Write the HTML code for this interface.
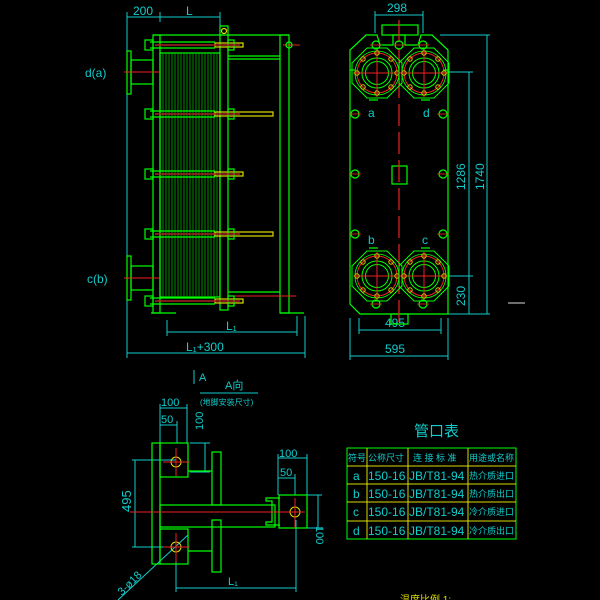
<!DOCTYPE html>
<html><head><meta charset="utf-8"><style>
html,body{margin:0;padding:0;background:#000;}
svg{display:block}
text{font-family:"Liberation Sans","Noto Sans CJK SC",sans-serif;}
</style></head><body>
<svg width="600" height="600" viewBox="0 0 600 600" xmlns="http://www.w3.org/2000/svg">
<rect width="600" height="600" fill="#000"/>
<defs>
<g id="bolt">
<circle r="4" fill="none" stroke="#0f0" stroke-width="1.2"/>
<line x1="-6" y1="0" x2="6" y2="0" stroke="#e22" stroke-width="0.8"/>
</g>
<g id="port">
<polygon points="-10,-25 10,-25 25,-10 25,10 10,25 -10,25 -25,10 -25,-10" fill="none" stroke="#0f0" stroke-width="1"/>
<circle r="20" fill="none" stroke="#e22" stroke-width="1"/>
<circle r="22" fill="none" stroke="#0f0" stroke-width="0.8"/>
<circle r="15" fill="none" stroke="#0f0" stroke-width="1"/>
<circle r="11.5" fill="none" stroke="#0f0" stroke-width="1"/>
<line x1="-24" y1="0" x2="24" y2="0" stroke="#e22" stroke-width="1"/>
<line x1="0" y1="-24" x2="0" y2="24" stroke="#e22" stroke-width="1"/>
<g fill="none" stroke="#cc0" stroke-width="1">
<circle cx="20" cy="0" r="2.2"/><circle cx="-20" cy="0" r="2.2"/><circle cx="0" cy="20" r="2.2"/><circle cx="0" cy="-20" r="2.2"/>
<circle cx="14" cy="14" r="2.2"/><circle cx="-14" cy="14" r="2.2"/><circle cx="14" cy="-14" r="2.2"/><circle cx="-14" cy="-14" r="2.2"/>
</g>
</g>
</defs>

<!-- ============ LEFT VIEW ============ -->
<g stroke="#1cc" stroke-width="1" fill="none">
<line x1="127" y1="17" x2="220" y2="17"/>
<line x1="127" y1="12" x2="127" y2="358"/>
<line x1="160" y1="12" x2="160" y2="22"/>
<line x1="220" y1="12" x2="220" y2="26"/>
<line x1="167" y1="320" x2="167" y2="336"/>
<line x1="297" y1="316" x2="297" y2="336"/>
<line x1="167" y1="332" x2="297" y2="332"/>
<line x1="305" y1="316" x2="305" y2="358"/>
<line x1="127" y1="353" x2="305" y2="353"/>
</g>
<g fill="#1cc" font-size="12">
<text x="133" y="15">200</text>
<text x="186" y="15">L</text>
<text x="85" y="77">d(a)</text>
<text x="87" y="283">c(b)</text>
<text x="226" y="330">L₁</text>
<text x="186" y="351">L₁+300</text>
</g>
<g stroke="#0f0" stroke-width="1.2" fill="none">
<line x1="153" y1="35" x2="289" y2="35"/>
<rect x="153" y="35" width="7" height="278"/>
<rect x="160" y="53" width="60" height="244"/>
<rect x="220" y="26" width="8" height="284"/>
<rect x="280" y="35" width="9" height="278"/>
<line x1="228" y1="56" x2="280" y2="56"/>
<line x1="228" y1="59" x2="280" y2="59"/>
<line x1="228" y1="292" x2="280" y2="292"/>
<line x1="151" y1="313" x2="176" y2="313"/>
<line x1="280" y1="313" x2="304" y2="313"/>
<!-- nozzles -->
<rect x="127" y="51" width="4" height="43"/>
<rect x="131" y="60" width="22" height="24"/>
<rect x="127" y="256" width="4" height="44"/>
<rect x="131" y="266" width="22" height="24"/>
</g>
<g stroke="#0c0" stroke-width="0.7">
<line x1="163" y1="53" x2="163" y2="297"/><line x1="166" y1="53" x2="166" y2="297"/><line x1="169" y1="53" x2="169" y2="297"/><line x1="172" y1="53" x2="172" y2="297"/><line x1="175" y1="53" x2="175" y2="297"/><line x1="178" y1="53" x2="178" y2="297"/><line x1="181" y1="53" x2="181" y2="297"/><line x1="184" y1="53" x2="184" y2="297"/><line x1="187" y1="53" x2="187" y2="297"/><line x1="190" y1="53" x2="190" y2="297"/><line x1="193" y1="53" x2="193" y2="297"/><line x1="196" y1="53" x2="196" y2="297"/><line x1="199" y1="53" x2="199" y2="297"/><line x1="202" y1="53" x2="202" y2="297"/><line x1="205" y1="53" x2="205" y2="297"/><line x1="208" y1="53" x2="208" y2="297"/><line x1="211" y1="53" x2="211" y2="297"/><line x1="214" y1="53" x2="214" y2="297"/><line x1="217" y1="53" x2="217" y2="297"/>
</g>
<g stroke="#e22" stroke-width="1">
<line x1="124" y1="72" x2="160" y2="72"/>
<line x1="124" y1="278" x2="160" y2="278"/>
<line x1="228" y1="296" x2="296" y2="296"/>
<line x1="283" y1="45" x2="300" y2="45"/>
</g>
<!-- bolts -->
<g stroke-width="1.2" fill="none">
<g stroke="#dd0"><rect x="215" y="43" width="28" height="4"/><rect x="215" y="112" width="58" height="4"/><rect x="215" y="172" width="28" height="4"/><rect x="215" y="232" width="58" height="4"/><rect x="215" y="299" width="28" height="4"/></g>
<g stroke="#0f0"><line x1="150" y1="42" x2="215" y2="42"/><line x1="150" y1="48" x2="215" y2="48"/><line x1="150" y1="111" x2="215" y2="111"/><line x1="150" y1="117" x2="215" y2="117"/><line x1="150" y1="171" x2="215" y2="171"/><line x1="150" y1="177" x2="215" y2="177"/><line x1="150" y1="231" x2="215" y2="231"/><line x1="150" y1="237" x2="215" y2="237"/><line x1="150" y1="298" x2="215" y2="298"/><line x1="150" y1="304" x2="215" y2="304"/>
<rect x="145" y="40" width="8" height="10"/><rect x="145" y="109" width="8" height="10"/><rect x="145" y="169" width="8" height="10"/><rect x="145" y="229" width="8" height="10"/><rect x="145" y="296" width="8" height="10"/>
<rect x="228" y="40" width="6" height="10"/><rect x="228" y="109" width="6" height="10"/><rect x="228" y="169" width="6" height="10"/><rect x="228" y="229" width="6" height="10"/><rect x="228" y="296" width="6" height="10"/>
<circle cx="289" cy="45" r="3"/><circle cx="224" cy="31" r="2.5" stroke="#dd0"/></g>
<g stroke="#a22" stroke-width="1.5"><line x1="155" y1="45" x2="240" y2="45"/><line x1="155" y1="114" x2="240" y2="114"/><line x1="155" y1="174" x2="240" y2="174"/><line x1="155" y1="234" x2="240" y2="234"/><line x1="155" y1="301" x2="240" y2="301"/></g>
</g>

<!-- ============ RIGHT VIEW ============ -->
<g stroke="#1cc" stroke-width="1" fill="none">
<line x1="375" y1="15" x2="423" y2="15"/>
<line x1="375" y1="11" x2="375" y2="33"/>
<line x1="423" y1="11" x2="423" y2="33"/>
<line x1="440" y1="35" x2="490" y2="35"/>
<line x1="447" y1="72" x2="473" y2="72"/>
<line x1="447" y1="276" x2="473" y2="276"/>
<line x1="448" y1="314" x2="490" y2="314"/>
<line x1="487" y1="35" x2="487" y2="314"/>
<line x1="469" y1="72" x2="469" y2="314"/>
<line x1="359" y1="318" x2="359" y2="334"/>
<line x1="441" y1="318" x2="441" y2="334"/>
<line x1="359" y1="330" x2="441" y2="330"/>
<line x1="350" y1="318" x2="350" y2="360"/>
<line x1="448" y1="318" x2="448" y2="360"/>
<line x1="350" y1="356" x2="448" y2="356"/>
</g>
<line x1="508" y1="303" x2="525" y2="303" stroke="#ddd" stroke-width="1"/>
<g fill="#1cc" font-size="12">
<text x="387" y="12">298</text>
<text x="385" y="327">495</text>
<text x="385" y="353">595</text>
<text x="368" y="117">a</text>
<text x="423" y="117">d</text>
<text x="368" y="244">b</text>
<text x="422" y="244">c</text>
<text transform="translate(465,190) rotate(-90)">1286</text>
<text transform="translate(484,190) rotate(-90)">1740</text>
<text transform="translate(465,306) rotate(-90)">230</text>
</g>
<g stroke="#0f0" stroke-width="1.2" fill="none">
<polygon points="366,35 377,35 380,45 393,45 393,35 405,35 405,45 418,45 421,35 432,35 448,50 448,314 360,314 350,304 350,50"/>
<rect x="382" y="25" width="36" height="10"/>
<line x1="350" y1="70" x2="355" y2="70"/><line x1="443" y1="70" x2="448" y2="70"/>
<rect x="391" y="314" width="17" height="10"/>
<rect x="392" y="166" width="15" height="18"/>
<line x1="369" y1="100" x2="378" y2="100"/><line x1="421" y1="100" x2="430" y2="100"/>
<line x1="369" y1="248" x2="378" y2="248"/><line x1="421" y1="248" x2="430" y2="248"/>
</g>
<line x1="399" y1="20" x2="399" y2="322" stroke="#e22" stroke-width="1.2" stroke-dasharray="22,6"/>
<use href="#port" x="377" y="73"/><use href="#port" x="424" y="73"/>
<use href="#port" x="377" y="276"/><use href="#port" x="424" y="276"/>
<use href="#bolt" x="355" y="114"/><use href="#bolt" x="443" y="114"/>
<use href="#bolt" x="355" y="174"/><use href="#bolt" x="443" y="174"/>
<use href="#bolt" x="355" y="234"/><use href="#bolt" x="443" y="234"/>
<use href="#bolt" x="399" y="45"/><use href="#bolt" x="376" y="45"/><use href="#bolt" x="423" y="45"/>
<use href="#bolt" x="376" y="304"/><use href="#bolt" x="423" y="304"/>

<!-- ============ BOTTOM VIEW (A向) ============ -->
<g fill="#1cc" font-size="11">
<text x="199" y="381">A</text>
<text x="225" y="389">A向</text>
<text x="200" y="405" font-size="8">(地脚安装尺寸)</text>
<text x="161" y="406">100</text>
<text x="161" y="423">50</text>
<text transform="translate(203,430) rotate(-90)">100</text>
<text transform="translate(131,512) rotate(-90)" font-size="13">495</text>
<text x="279" y="457">100</text>
<text x="280" y="476">50</text>
<text transform="translate(316,526) rotate(90)">100</text>
<text x="228" y="585">L₁</text>
<text transform="translate(122,596) rotate(-45)">3-ø18</text>
</g>
<g stroke="#1cc" stroke-width="1" fill="none">
<line x1="194" y1="370" x2="194" y2="384"/>
<line x1="200" y1="393" x2="258" y2="393"/>
<line x1="160" y1="408" x2="187" y2="408"/><line x1="160" y1="404" x2="160" y2="443"/><line x1="187" y1="404" x2="187" y2="443"/>
<line x1="160" y1="425" x2="177" y2="425"/><line x1="177" y1="421" x2="177" y2="443"/>
<line x1="190" y1="443" x2="210" y2="443"/><line x1="190" y1="472" x2="210" y2="472"/><line x1="205" y1="443" x2="205" y2="472"/>
<line x1="132" y1="460" x2="176" y2="460"/><line x1="132" y1="547" x2="176" y2="547"/><line x1="135" y1="460" x2="135" y2="547"/>
<line x1="278" y1="458" x2="307" y2="458"/><line x1="278" y1="454" x2="278" y2="495"/><line x1="307" y1="454" x2="307" y2="495"/>
<line x1="278" y1="478" x2="295" y2="478"/><line x1="295" y1="474" x2="295" y2="495"/>
<line x1="307" y1="495" x2="322" y2="495"/><line x1="307" y1="528" x2="322" y2="528"/><line x1="318" y1="495" x2="318" y2="528"/>
<line x1="176" y1="555" x2="176" y2="592"/><line x1="296" y1="520" x2="296" y2="592"/><line x1="176" y1="588" x2="296" y2="588"/>
<line x1="118" y1="600" x2="188" y2="535"/>
</g>
<g stroke="#0f0" stroke-width="1.2" fill="none">
<rect x="152" y="443" width="8" height="121"/>
<rect x="160" y="443" width="28" height="34"/>
<line x1="188" y1="471" x2="212" y2="471"/>
<rect x="160" y="529" width="28" height="35"/>
<line x1="188" y1="551" x2="212" y2="551"/>
<rect x="212" y="452" width="9" height="53"/>
<rect x="212" y="520" width="9" height="52"/>
<rect x="160" y="505" width="115" height="22"/>
<rect x="279" y="495" width="28" height="33"/>
<polyline points="280,498 266,498 266,501 272,501 272,522 266,522 266,525 280,525"/>
</g>
<g stroke="#dd0" stroke-width="1" fill="none">
<circle cx="176" cy="462" r="5"/><circle cx="176" cy="547" r="5"/><circle cx="295" cy="512" r="5"/>
</g>
<g stroke="#e22" stroke-width="1">
<line x1="130" y1="512" x2="305" y2="512"/>
<line x1="163" y1="462" x2="190" y2="462"/><line x1="176" y1="448" x2="176" y2="476"/>
<line x1="163" y1="547" x2="190" y2="547"/><line x1="176" y1="533" x2="176" y2="562"/>
<line x1="295" y1="498" x2="295" y2="528"/>
</g>

<!-- ============ TABLE ============ -->
<text x="414" y="436" fill="#1cc" font-size="15" font-family="'Noto Sans CJK SC',sans-serif">管口表</text>
<g stroke="#dd0" stroke-width="1" fill="none">
<rect x="347" y="448" width="169" height="91" stroke="#0f0"/>
<line x1="347" y1="466" x2="516" y2="466"/><line x1="347" y1="484" x2="516" y2="484"/><line x1="347" y1="502" x2="516" y2="502"/><line x1="347" y1="521" x2="516" y2="521"/>
<line x1="367" y1="448" x2="367" y2="539"/><line x1="408" y1="448" x2="408" y2="539"/><line x1="468" y1="448" x2="468" y2="539"/>
</g>
<g fill="#1cc" font-size="9" font-family="'Noto Sans CJK SC',sans-serif">
<text x="348" y="461">符号</text><text x="368" y="461">公称尺寸</text><text x="413" y="461">连 接 标 准</text><text x="469" y="461">用途或名称</text>
</g>
<g fill="#1cc" font-size="12">
<text x="353" y="480">a</text><text x="368" y="480">150-16</text><text x="409" y="480">JB/T81-94</text>
<text x="353" y="498">b</text><text x="368" y="498">150-16</text><text x="409" y="498">JB/T81-94</text>
<text x="353" y="516">c</text><text x="368" y="516">150-16</text><text x="409" y="516">JB/T81-94</text>
<text x="353" y="535">d</text><text x="368" y="535">150-16</text><text x="409" y="535">JB/T81-94</text>
</g>
<g fill="#1cc" font-size="9" font-family="'Noto Sans CJK SC',sans-serif">
<text x="469" y="479">热介质进口</text><text x="469" y="497">热介质出口</text><text x="469" y="515">冷介质进口</text><text x="469" y="534">冷介质出口</text>
</g>
<text x="400" y="603" fill="#dd0" font-size="10" font-family="'Noto Sans CJK SC',sans-serif">温度比例 1:</text>
</svg>
</body></html>
